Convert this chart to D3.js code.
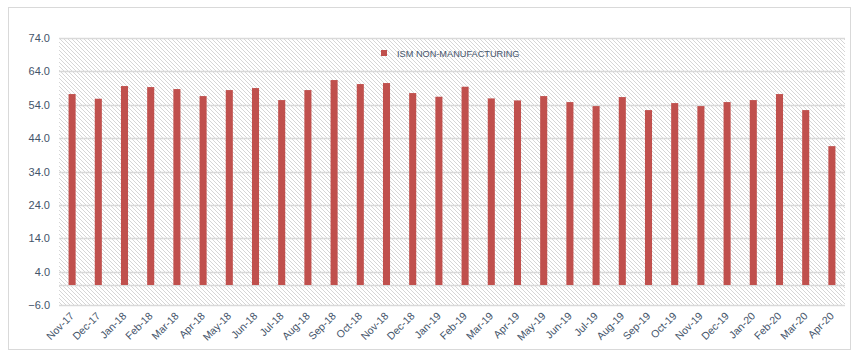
<!DOCTYPE html>
<html>
<head>
<meta charset="utf-8">
<script src="https://cdn.jsdelivr.net/npm/d3@7"></script>
<style>
  body { margin: 0; background: #fff; }
  text { font-family: "Liberation Sans", Arial, sans-serif; }
</style>
</head>
<body>
<div id="chart"></div>
<script>
// months on the x axis
var months = ["Nov-17","Dec-17","Jan-18","Feb-18","Mar-18","Apr-18","May-18","Jun-18","Jul-18","Aug-18",
  "Sep-18","Oct-18","Nov-18","Dec-18","Jan-19","Feb-19","Mar-19","Apr-19","May-19","Jun-19",
  "Jul-19","Aug-19","Sep-19","Oct-19","Nov-19","Dec-19","Jan-20","Feb-20","Mar-20","Apr-20"];
// ISM non-manufacturing index
var ismValues = [57.2, 55.8, 59.6, 59.3, 58.7, 56.6, 58.4, 59.0, 55.4, 58.4,
  61.4, 60.2, 60.5, 57.5, 56.4, 59.4, 55.9, 55.3, 56.6, 54.8,
  53.6, 56.3, 52.4, 54.5, 53.6, 54.8, 55.4, 57.2, 52.4, 41.6];
var yTicks = [-6, 4, 14, 24, 34, 44, 54, 64, 74];
var seriesName = "ISM NON-MANUFACTURING";

var W = 854, H = 359;
var margin = {top: 38, right: 9, bottom: 54, left: 59};
var width = W - margin.left - margin.right,
    height = H - margin.top - margin.bottom;

var svgRoot = d3.select("#chart").append("svg")
  .attr("width", W).attr("height", H);

// hatch pattern for plot area
var defs = svgRoot.append("defs");
var pat = defs.append("pattern")
  .attr("id", "hatch")
  .attr("patternUnits", "userSpaceOnUse")
  .attr("width", 4).attr("height", 4);
pat.append("rect").attr("width", 4).attr("height", 4).attr("fill", "#fff");
pat.append("path")
  .attr("d", "M-1,-1 L5,5 M-1,3 L1,5 M3,-1 L5,1")
  .attr("stroke", "#d6d6d6").attr("stroke-width", 1);

// outer border
svgRoot.append("rect")
  .attr("x", 8.5).attr("y", 7.5).attr("width", 842).attr("height", 342)
  .attr("fill", "#fff").attr("stroke", "#d9d9d9").attr("stroke-width", 1);

var svg = svgRoot.append("g")
  .attr("transform", "translate(" + margin.left + "," + margin.top + ")");

var x = d3.scaleBand().domain(months).range([0, width]).paddingInner(0.73).paddingOuter(0.365);
var y = d3.scaleLinear().domain([-6, 74]).range([height, 0]);

svg.append("rect")
  .attr("width", width).attr("height", height)
  .attr("fill", "url(#hatch)");

// gridlines
svg.append("g")
  .selectAll("line")
  .data(yTicks)
  .join("line")
  .attr("x1", 0).attr("x2", width)
  .attr("y1", function(d) { return Math.round(y(d)) + 0.5; })
  .attr("y2", function(d) { return Math.round(y(d)) + 0.5; })
  .attr("stroke", "#d9d9d9").attr("stroke-width", 1.5);

// zero line
svg.append("line")
  .attr("x1", 0).attr("x2", width)
  .attr("y1", Math.round(y(0)) + 0.5).attr("y2", Math.round(y(0)) + 0.5)
  .attr("stroke", "#d9d9d9").attr("stroke-width", 1.5);

// y axis
var yAxis = svg.append("g")
  .call(d3.axisLeft(y).tickValues(yTicks).tickFormat(d3.format(".1f")).tickSize(0).tickPadding(9));
yAxis.select(".domain").remove();
yAxis.selectAll("text").attr("fill", "#44546a").style("font-size", "11px");

// bars
svg.selectAll("rect.bar")
  .data(ismValues)
  .join("rect")
  .attr("class", "bar")
  .attr("x", function(d, i) { return x(months[i]); })
  .attr("width", x.bandwidth())
  .attr("y", function(d) { return y(d); })
  .attr("height", function(d) { return y(0) - y(d); })
  .attr("fill", "#c0504d");

// x axis labels
var xAxis = svg.append("g")
  .attr("transform", "translate(0," + (height + 9) + ")")
  .call(d3.axisBottom(x).tickSize(0).tickPadding(0));
xAxis.select(".domain").remove();
xAxis.selectAll("text")
  .attr("fill", "#44546a")
  .style("font-size", "10.5px")
  .attr("text-anchor", "end")
  .attr("dy", "0.35em")
  .attr("transform", "rotate(-45)");

// legend
var legend = svgRoot.append("g").attr("transform", "translate(381,50)");
legend.append("rect").attr("width", 6).attr("height", 6).attr("fill", "#c0504d");
legend.append("text")
  .attr("x", 16).attr("y", 7)
  .attr("fill", "#44546a")
  .style("font-size", "9.2px")
  .text(seriesName);
</script>
</body>
</html>
